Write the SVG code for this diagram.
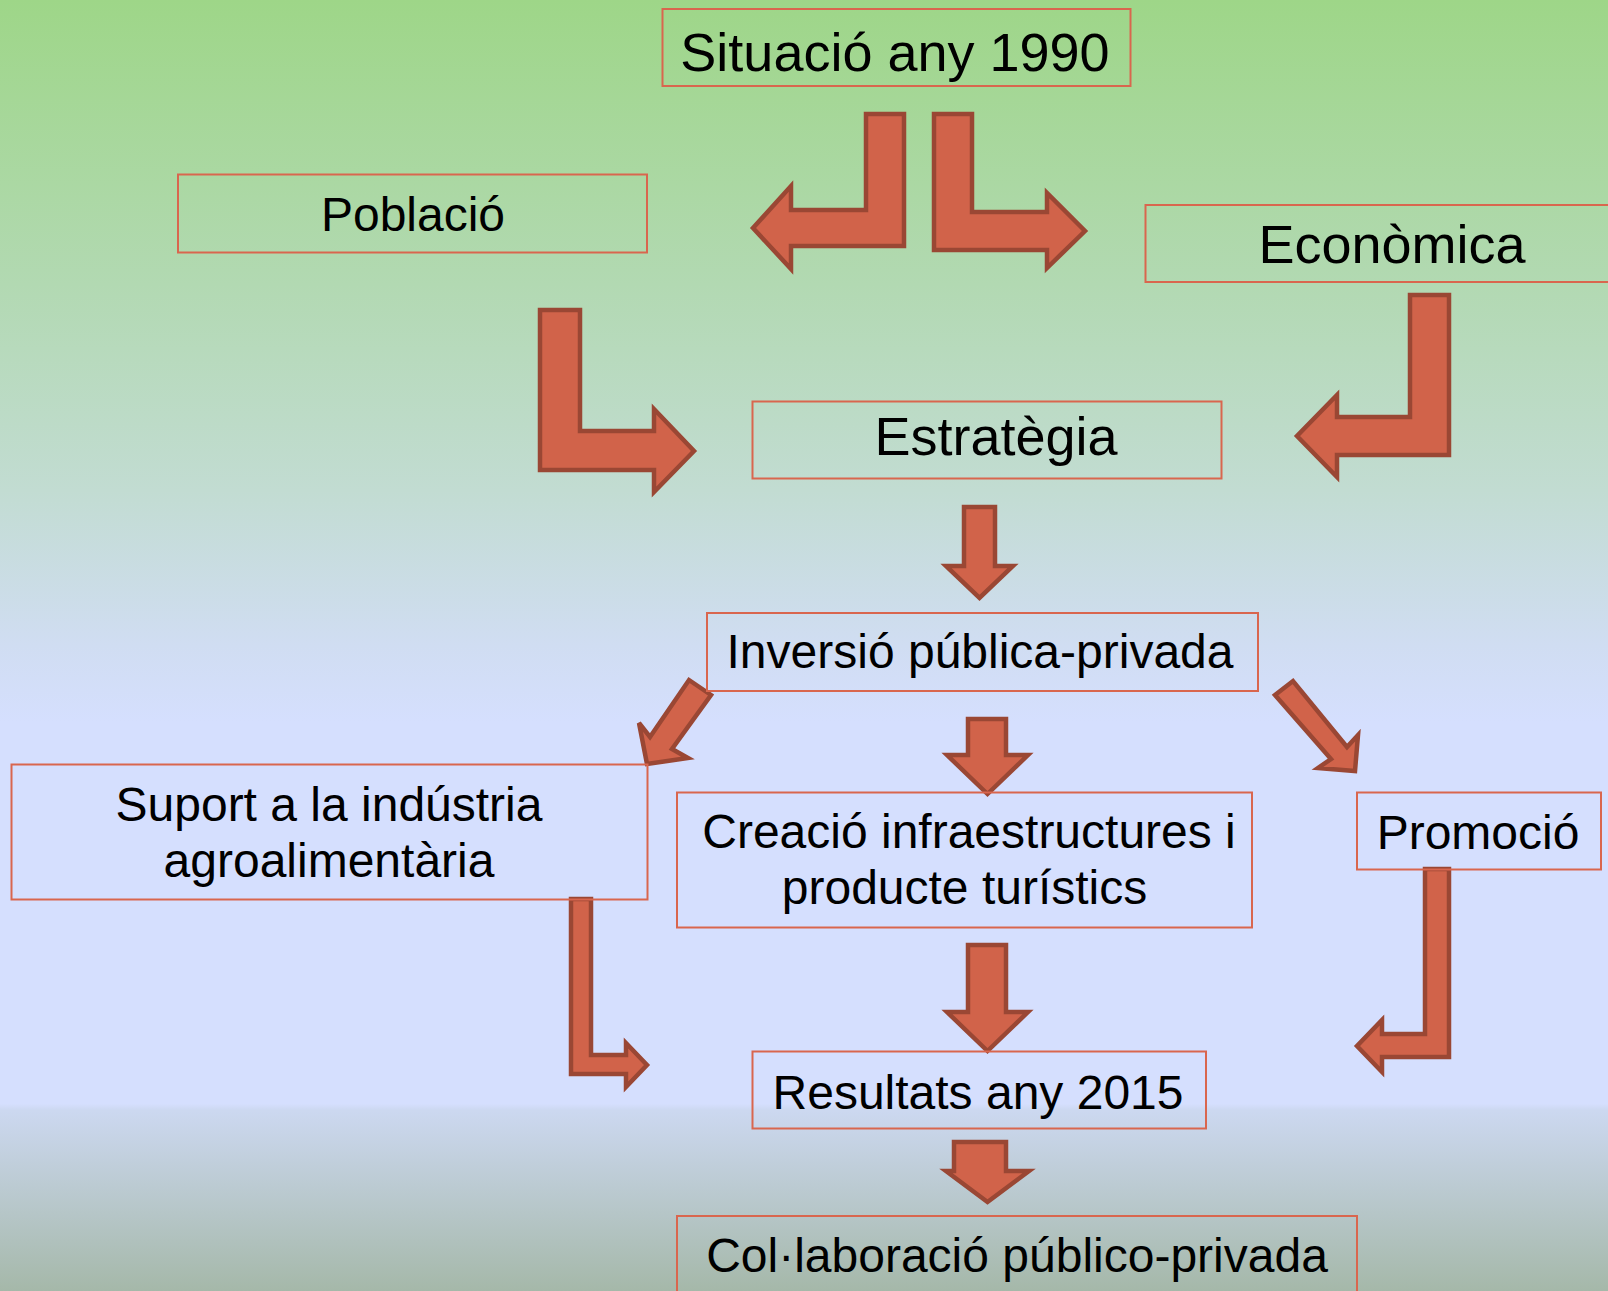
<svg xmlns="http://www.w3.org/2000/svg" width="1608" height="1291" viewBox="0 0 1608 1291">
<defs>
<linearGradient id="bg" x1="0" y1="0" x2="0" y2="1">
<stop offset="0" stop-color="#9ed688"/>
<stop offset="0.22" stop-color="#b2d9b2"/>
<stop offset="0.38" stop-color="#c2dcd2"/>
<stop offset="0.5" stop-color="#d0ddf2"/>
<stop offset="0.56" stop-color="#d5dffe"/>
<stop offset="0.855" stop-color="#d5dffe"/>
<stop offset="0.86" stop-color="#ccd8f0"/>
<stop offset="1" stop-color="#a5b8a9"/>
</linearGradient>
<style>
.box{fill:none;stroke:#d9664e;stroke-width:2}
.lbl{font-family:"Liberation Sans",Arial,sans-serif;fill:#000;text-anchor:middle}
.arr{fill:#d1634a;stroke:#9a4734;stroke-width:4.5;stroke-linejoin:miter}
</style>
</defs>
<rect x="0" y="0" width="1608" height="1291" fill="url(#bg)"/>

<g id="connectors">
<path class="arr" d="M904,114 L904,246 L791,246 L791,269 L753,228 L791,186 L791,210 L866,210 L866,114 Z"/>
<path class="arr" d="M934,114 L972,114 L972,212 L1047,212 L1047,193 L1085,231 L1047,268 L1047,250 L934,250 Z"/>
<path class="arr" d="M540,310 L580,310 L580,431 L654,431 L654,409 L694,451 L654,492 L654,470 L540,470 Z"/>
<path class="arr" d="M1449,295 L1449,455 L1337,455 L1337,477 L1297,436 L1337,395 L1337,417 L1410,417 L1410,295 Z"/>
<path class="arr" d="M964,507 L995,507 L995,566 L1013,566 L979.5,598 L946,566 L964,566 Z"/>
<path class="arr" d="M689,680 L711,695 L672,749 L688,758 L647,764 L639,723 L650,737 Z"/>
<path class="arr" d="M968,719 L1006,719 L1006,755 L1028,755 L987.5,794 L947,755 L968,755 Z"/>
<path class="arr" d="M1275,695 L1293,681 L1347,747 L1358,735 L1355,771 L1318,768 L1331,759 Z"/>
<path class="arr" d="M1449,869 L1449,1057 L1382,1057 L1382,1072 L1357,1046 L1382,1020 L1382,1034 L1425,1034 L1425,869 Z"/>
<path class="arr" d="M571,899 L591,899 L591,1055 L626,1055 L626,1043 L647,1065 L626,1087 L626,1074 L571,1074 Z"/>
<path class="arr" d="M968,945 L1006,945 L1006,1012 L1028,1012 L987.5,1051 L947,1012 L968,1012 Z"/>
<path class="arr" d="M954,1142 L1006,1142 L1006,1171 L1029,1171 L987.5,1202 L946,1171 L954,1171 Z"/>
</g>

<g id="situacio">
<rect class="box" x="662.5" y="9" width="468" height="77"/>
<text class="lbl" x="895" y="71" font-size="54">Situació any 1990</text>
</g>
<g id="poblacio">
<rect class="box" x="178" y="174.5" width="469" height="78"/>
<text class="lbl" x="413" y="231" font-size="48">Població</text>
</g>
<g id="economica">
<rect class="box" x="1145.5" y="205" width="480" height="77"/>
<text class="lbl" x="1392" y="263" font-size="54">Econòmica</text>
</g>
<g id="estrategia">
<rect class="box" x="752.5" y="401.5" width="469" height="77"/>
<text class="lbl" x="996" y="455" font-size="54">Estratègia</text>
</g>
<g id="inversio">
<rect class="box" x="707" y="613" width="551" height="78"/>
<text class="lbl" x="980" y="668" font-size="48">Inversió pública-privada</text>
</g>
<g id="suport">
<rect class="box" x="11.5" y="764.5" width="636" height="135"/>
<text class="lbl" x="329" y="821" font-size="48">Suport a la indústria</text>
<text class="lbl" x="329" y="877" font-size="48">agroalimentària</text>
</g>
<g id="creacio">
<rect class="box" x="677" y="792.5" width="575" height="135"/>
<text class="lbl" x="969" y="848" font-size="48">Creació infraestructures i</text>
<text class="lbl" x="964.5" y="904" font-size="48">producte turístics</text>
</g>
<g id="promocio">
<rect class="box" x="1357" y="792.5" width="244" height="77"/>
<text class="lbl" x="1478" y="849" font-size="48">Promoció</text>
</g>
<g id="resultats">
<rect class="box" x="752.5" y="1051.5" width="453.5" height="77"/>
<text class="lbl" x="978" y="1109" font-size="48">Resultats any 2015</text>
</g>
<g id="collaboracio">
<rect class="box" x="677" y="1216" width="680" height="100"/>
<text class="lbl" x="1017" y="1272" font-size="48">Col·laboració público-privada</text>
</g>
</svg>
